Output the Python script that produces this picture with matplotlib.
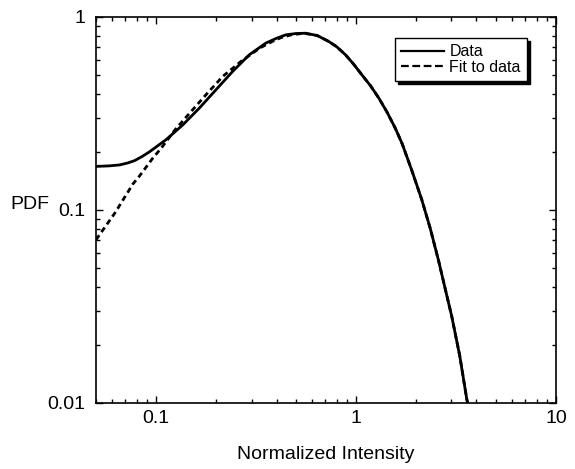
import matplotlib
matplotlib.use("Agg")
import matplotlib.pyplot as plt
from matplotlib.ticker import LogLocator, NullFormatter

plt.rcParams['font.family'] = ['Liberation Sans', 'DejaVu Sans']

# Data curve
data_x = [0.05, 0.058, 0.0656, 0.072, 0.078, 0.085, 0.0926, 0.112, 0.136, 0.164,
          0.199, 0.241, 0.292, 0.353, 0.40, 0.445, 0.50, 0.56, 0.64, 0.731, 0.80,
          0.885, 0.97, 1.07, 1.18, 1.30, 1.43, 1.57, 1.70, 1.90, 2.13, 2.35,
          2.58, 3.01, 3.30, 3.58, 3.66]
data_y = [0.168, 0.169, 0.171, 0.175, 0.180, 0.189, 0.200, 0.231, 0.276, 0.336,
          0.419, 0.521, 0.636, 0.731, 0.775, 0.807, 0.820, 0.823, 0.800, 0.745, 0.700,
          0.636, 0.570, 0.50, 0.44, 0.379, 0.32, 0.265, 0.22, 0.16, 0.113, 0.080,
          0.055, 0.028, 0.0175, 0.0104, 0.0095]

# Fit curve
fit_x = [0.05, 0.062, 0.0764, 0.0826, 0.096, 0.106, 0.125, 0.147, 0.177, 0.215,
         0.265, 0.33, 0.38, 0.42, 0.48, 0.55, 0.64, 0.731, 0.80, 0.885, 0.97,
         1.07, 1.18, 1.30, 1.43, 1.57, 1.70, 1.90, 2.13, 2.35, 2.58, 3.01, 3.30,
         3.58, 3.66]
fit_y = [0.070, 0.096, 0.136, 0.150, 0.185, 0.209, 0.262, 0.317, 0.394, 0.491,
         0.587, 0.69, 0.745, 0.78, 0.81, 0.822, 0.800, 0.745, 0.700, 0.636, 0.570,
         0.50, 0.44, 0.379, 0.32, 0.265, 0.22, 0.16, 0.113, 0.080, 0.055, 0.028,
         0.0175, 0.0104, 0.0095]

x_ticks = [0.1, 1, 10]
x_tick_labels = ['0.1', '1', '10']
y_ticks = [0.01, 0.1, 1]
y_tick_labels = ['0.01', '0.1', '1']

fig = plt.figure(figsize=(5.75, 4.69), dpi=100)
ax = fig.add_axes([0.167, 0.141, 0.800, 0.823])

ax.plot(data_x, data_y, color='black', lw=2.0, label='Data')
ax.plot(fit_x, fit_y, color='black', lw=2.0, linestyle=(0, (2, 1.4)), label='Fit to data')

ax.set_xscale('log')
ax.set_yscale('log')
ax.set_xlim(0.05, 10)
ax.set_ylim(0.01, 1)

ax.set_xticks(x_ticks)
ax.set_xticklabels(x_tick_labels)
ax.set_yticks(y_ticks)
ax.set_yticklabels(y_tick_labels)
ax.xaxis.set_minor_locator(LogLocator(base=10, subs=range(2, 10), numticks=20))
ax.yaxis.set_minor_locator(LogLocator(base=10, subs=range(2, 10), numticks=20))
ax.xaxis.set_minor_formatter(NullFormatter())
ax.yaxis.set_minor_formatter(NullFormatter())

ax.tick_params(which='both', direction='in', top=True, right=True, width=1.0, labelsize=14)
ax.tick_params(which='major', length=5)
ax.tick_params(which='minor', length=3)
ax.tick_params(axis='y', which='major', pad=8)
ax.tick_params(axis='x', which='major', pad=5)
for s in ax.spines.values():
    s.set_linewidth(1.2)

ax.set_xlabel('Normalized Intensity', fontsize=14, labelpad=14)
ax.set_ylabel('PDF', fontsize=14, rotation=0, ha='right', va='center')
ax.yaxis.set_label_coords(-0.102, 0.513)

leg = ax.legend(loc='upper right', bbox_to_anchor=(0.937, 0.946), borderaxespad=0,
                fontsize=11.5, frameon=True, fancybox=False, handlelength=2.7,
                handletextpad=0.3, labelspacing=0.05, borderpad=0.4,
                shadow={'facecolor': 'black', 'edgecolor': 'black', 'alpha': 1.0, 'ox': 2, 'oy': -2})
leg.get_frame().set_edgecolor('black')
leg.get_frame().set_linewidth(1.0)
leg_lines = leg.get_lines()
for line in leg_lines:
    line.set_linewidth(1.6)
leg_lines[1].set_linestyle((0, (3.5, 1.6)))

fig.savefig('out.png', dpi=100)
